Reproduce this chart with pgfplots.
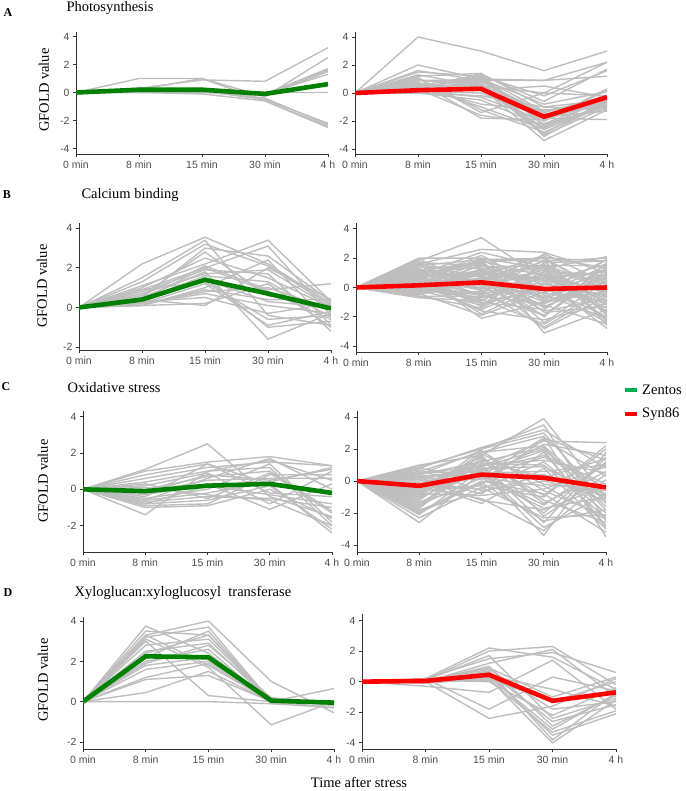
\documentclass[border=0pt]{standalone}
\usepackage{fontspec}
\setmainfont{Liberation Serif}
\setsansfont{Liberation Sans}
\usepackage{pgfplots}
\pgfplotsset{compat=1.18}

\definecolor{glin}{RGB}{190,190,190}
\definecolor{zgreen}{RGB}{0,128,0}
\definecolor{lgreen}{RGB}{0,176,80}
\definecolor{sred}{RGB}{255,0,0}
\definecolor{axc}{RGB}{51,51,51}
\definecolor{tkc}{RGB}{77,77,77}

% one gene profile (grey)
\newcommand\g[5]{\addplot[glin, line width=1.4pt, forget plot] coordinates {(0,#1)(1,#2)(2,#3)(3,#4)(4,#5)};}
% mean profile
\newcommand\m[6]{\addplot[#1, line width=4.6pt, forget plot] coordinates {(0,#2)(1,#3)(2,#4)(3,#5)(4,#6)};}

\pgfplotsset{panel/.style={
  scale only axis, anchor=south west,
  xmin=0, xmax=4, xtick={0,1,2,3,4},
  xticklabels={0 min,8 min,15 min,30 min,4 h},
  ytick={-4,-2,0,2,4},
  yticklabel={\pgfmathparse{int(round(\tick))}\pgfmathresult},
  axis x line*=bottom, axis y line*=left,
  axis line style={-, axc, line width=0.9pt},
  tick style={axc, line width=0.9pt},
  tick align=outside, major tick length=3pt,
  ticklabel style={font=\sffamily\fontsize{10.5}{12}\selectfont, text=tkc},
}}
\tikzset{ttl/.style={font=\fontsize{14.5}{17}\selectfont, anchor=west},
  lab/.style={font=\bfseries\fontsize{12}{14}\selectfont},
  ylab/.style={font=\fontsize{14.5}{17}\selectfont, rotate=90}}

\begin{document}
\begin{tikzpicture}
\useasboundingbox (0pt,0pt) rectangle (685pt,-791pt);

% ---------------- A: Photosynthesis
\node[lab] at (8pt,-13pt) {A};
\node[ttl] at (63pt,-8pt) {Photosynthesis};
\node[ylab] at (44pt,-90pt) {GFOLD value};

\begin{axis}[panel, at={(76pt,-154pt)}, width=252pt, height=122pt, ymin=-4.39, ymax=4.32]
\g{0}{1.0}{1.0}{-0.6}{-2.5}
\g{0}{0.3}{0.9}{0.8}{3.2}
\g{0}{0.2}{1.0}{-0.3}{2.5}
\g{0}{0.1}{0.3}{-0.1}{1.7}
\g{0}{0.1}{0.0}{-0.2}{1.6}
\g{0}{0.2}{0.1}{-0.5}{-2.2}
\g{0}{0.0}{0.1}{-0.4}{-2.3}
\g{0}{0.0}{0.1}{0.0}{0.0}
\g{0}{0.3}{0.2}{-0.1}{1.3}
\g{0}{0.1}{0.2}{-0.2}{1.5}
\g{0}{0.0}{-0.1}{-0.6}{-2.4}
\m{zgreen}{0}{0.2}{0.2}{-0.1}{0.6}
\end{axis}

\begin{axis}[panel, at={(355pt,-154pt)}, width=252pt, height=122pt, ymin=-4.36, ymax=4.36]
\g{0}{4.0}{3.0}{1.6}{3.0}
\g{0}{2.0}{1.0}{0.9}{2.2}
\g{0}{1.6}{0.9}{0.9}{1.2}
\g{0}{1.5}{1.2}{-0.2}{1.6}
\g{0}{1.3}{0.5}{0.0}{2.2}
\g{0}{1.2}{1.4}{-1.0}{-0.5}
\g{0}{1.0}{-1.2}{-2.8}{-0.8}
\g{0}{0.9}{0.6}{-1.5}{-0.9}
\g{0}{0.8}{-1.8}{-1.9}{-0.6}
\g{0}{0.6}{0.2}{-2.2}{-1.1}
\g{0}{0.5}{-1.0}{-2.6}{-0.7}
\g{0}{0.4}{1.1}{-1.3}{-0.4}
\g{0}{0.3}{0.4}{-3.4}{-1.2}
\g{0}{0.2}{-0.3}{-2.0}{0.3}
\g{0}{0.1}{0.0}{-1.8}{-1.9}
\g{0}{0.1}{1.0}{-0.8}{0.1}
\g{0}{0.0}{-0.5}{-2.4}{-0.9}
\g{0}{0.2}{0.8}{-1.4}{-0.2}
\g{0}{0.0}{0.6}{-3.0}{-1.0}
\g{0}{0.3}{-1.6}{-2.2}{-0.5}
\g{0}{0.5}{1.3}{-0.6}{1.7}
\g{0}{0.7}{0.2}{0.5}{-0.3}
\g{0}{0.0}{0.9}{-1.6}{-0.7}
\g{0}{0.4}{-0.8}{-1.2}{-1.0}
\g{0}{0.1}{0.3}{-2.6}{-0.8}
\g{0}{0.2}{1.4}{-3.1}{-0.6}
\g{0}{0.0}{-0.2}{-1.0}{-1.2}
\g{0}{0.6}{0.5}{-2.0}{0.2}
\g{0}{0.9}{0.9}{-1.8}{-0.4}
\g{0}{1.1}{-1.4}{0.0}{-0.2}
\g{0}{0.3}{1.2}{-2.3}{-0.9}
\g{0}{0.1}{0.7}{-2.9}{-0.5}
\g{0}{0.4}{1.0}{-1.7}{-1.3}
\g{0}{0.2}{0.5}{-2.5}{-0.3}
\m{sred}{0}{0.2}{0.3}{-1.7}{-0.3}
\end{axis}

% ---------------- B: Calcium binding
\node[lab] at (7pt,-195pt) {B};
\node[ttl] at (78pt,-195pt) {Calcium binding};
\node[ylab] at (42pt,-286pt) {GFOLD value};

\begin{axis}[panel, at={(79pt,-350pt)}, width=252pt, height=127pt, ymin=-2.15, ymax=4.27]
\g{0}{2.2}{3.55}{2.2}{0.2}
\g{0}{1.5}{3.4}{-0.4}{-0.9}
\g{0}{1.3}{3.2}{2.1}{0.1}
\g{0}{1.1}{2.2}{3.4}{0.3}
\g{0}{0.9}{2.0}{3.1}{-0.4}
\g{0}{0.8}{1.9}{1.7}{-1.2}
\g{0}{0.6}{2.1}{0.9}{1.2}
\g{0}{0.5}{1.8}{-1.6}{-0.3}
\g{0}{0.4}{1.6}{1.3}{-0.5}
\g{0}{0.3}{1.4}{0.3}{0.0}
\g{0}{0.2}{1.2}{-0.9}{-0.2}
\g{0}{0.1}{1.0}{2.4}{-0.9}
\g{0}{0.2}{0.8}{1.0}{-0.1}
\g{0}{0.4}{0.1}{2.0}{0.4}
\g{0}{0.3}{0.5}{-0.3}{0.2}
\g{0}{0.1}{0.2}{1.2}{-1.0}
\g{0}{0.6}{2.8}{0.6}{0.1}
\g{0}{0.9}{1.3}{-0.6}{-0.4}
\g{0}{1.0}{2.5}{1.5}{0.0}
\g{0}{0.2}{0.7}{0.1}{-0.3}
\g{0}{0.5}{3.0}{2.6}{0.3}
\g{0}{0.3}{1.5}{-1.0}{-0.7}
\g{0}{0.7}{1.7}{1.9}{0.0}
\g{0}{0.1}{0.9}{0.4}{0.4}
\g{0}{0.4}{2.0}{0.8}{-0.6}
\m{zgreen}{0}{0.4}{1.4}{0.7}{-0.05}
\end{axis}

\begin{axis}[panel, at={(356pt,-352pt)}, width=251pt, height=129pt, ymin=-4.4, ymax=4.4]
\g{0}{2.0}{2.0}{1.3}{2.1}
\g{0}{1.8}{3.4}{0.6}{-0.2}
\g{0}{1.6}{2.6}{2.4}{1.0}
\g{0}{1.5}{1.9}{2.0}{1.8}
\g{0}{1.2}{1.7}{-0.5}{-2.1}
\g{0}{1.1}{0.8}{2.2}{-2.6}
\g{0}{1.0}{1.4}{1.5}{1.5}
\g{0}{0.9}{-2.1}{-1.0}{0.7}
\g{0}{0.8}{1.0}{0.5}{-2.8}
\g{0}{0.7}{-1.8}{0.2}{1.2}
\g{0}{0.6}{1.9}{-3.1}{-1.5}
\g{0}{0.5}{0.3}{1.8}{2.0}
\g{0}{0.5}{-0.5}{0.7}{-1.2}
\g{0}{0.4}{1.2}{-2.4}{0.5}
\g{0}{0.4}{0.6}{1.0}{-0.4}
\g{0}{0.3}{-1.0}{-1.5}{1.4}
\g{0}{0.3}{2.0}{-0.8}{0.9}
\g{0}{0.2}{0.0}{1.2}{-2.3}
\g{0}{0.2}{-1.5}{0.3}{-0.7}
\g{0}{0.1}{0.9}{-2.0}{1.7}
\g{0}{0.1}{1.5}{0.9}{-1.0}
\g{0}{0.0}{-0.4}{2.3}{0.3}
\g{0}{0.0}{0.4}{-1.2}{-2.5}
\g{0}{-0.1}{-0.8}{-2.5}{0.0}
\g{0}{-0.1}{1.1}{0.6}{1.1}
\g{0}{-0.2}{-1.2}{1.6}{-1.8}
\g{0}{-0.2}{0.2}{-0.6}{0.6}
\g{0}{-0.3}{-0.3}{1.9}{-0.2}
\g{0}{-0.3}{1.6}{-1.7}{-1.3}
\g{0}{-0.4}{-1.9}{-0.3}{1.9}
\g{0}{-0.5}{0.7}{-2.8}{-0.6}
\g{0}{-0.6}{-0.6}{0.0}{-2.0}
\g{0}{-0.7}{-0.9}{1.1}{0.8}
\g{0}{-0.5}{0.5}{2.1}{1.3}
\g{0}{1.3}{-0.2}{-0.4}{-0.9}
\g{0}{0.6}{1.8}{0.8}{-1.6}
\g{0}{1.9}{0.2}{-1.3}{0.4}
\g{0}{0.9}{2.4}{1.4}{-0.1}
\g{0}{0.3}{-1.6}{-2.2}{-1.1}
\g{0}{0.7}{0.9}{0.4}{1.6}
\g{0}{1.4}{1.3}{-0.9}{0.2}
\g{0}{0.2}{1.7}{2.0}{-0.3}
\g{0}{0.0}{-0.7}{0.7}{-1.4}
\g{0}{1.0}{0.1}{-1.9}{1.0}
\g{0}{-0.2}{1.0}{1.3}{-2.2}
\g{0}{0.4}{-0.4}{-0.1}{0.1}
\g{0}{1.7}{1.5}{0.2}{-0.5}
\g{0}{0.8}{-1.3}{1.7}{1.8}
\g{0}{0.1}{0.6}{-1.6}{-0.8}
\g{0}{0.5}{2.2}{-0.2}{0.9}
\g{0}{1.2}{0.4}{-0.7}{1.3}
\g{0}{0.6}{-0.9}{1.4}{-1.7}
\g{0}{-0.4}{1.3}{0.5}{-0.6}
\g{0}{1.1}{-0.6}{-1.1}{0.5}
\g{0}{0.3}{0.8}{-0.4}{1.5}
\g{0}{-0.6}{-1.4}{0.9}{-0.4}
\g{0}{0.8}{1.9}{1.8}{-1.9}
\g{0}{1.5}{-0.1}{0.3}{-1.1}
\g{0}{0.0}{1.2}{-1.4}{0.8}
\g{0}{0.7}{-0.2}{-2.7}{-0.2}
\g{0}{-0.3}{0.6}{1.5}{0.2}
\g{0}{1.0}{1.6}{-0.2}{1.9}
\g{0}{0.4}{-1.1}{0.0}{-2.4}
\g{0}{0.2}{0.3}{0.8}{-0.9}
\g{0}{1.6}{0.7}{-1.0}{-0.3}
\g{0}{-0.1}{-0.5}{-1.9}{1.2}
\m{sred}{0}{0.15}{0.35}{-0.1}{0.0}
\end{axis}

% ---------------- C: Oxidative stress
\node[lab] at (6pt,-387pt) {C};
\node[ttl] at (64pt,-388pt) {Oxidative stress};
\node[ylab] at (43pt,-481pt) {GFOLD value};

\begin{axis}[panel, at={(83pt,-552pt)}, width=249pt, height=141pt, ymin=-3.45, ymax=4.31]
\g{0}{1.1}{2.5}{-0.4}{-1.5}
\g{0}{1.0}{1.5}{1.8}{1.3}
\g{0}{0.8}{1.4}{0.3}{-2.4}
\g{0}{0.6}{1.2}{1.5}{1.3}
\g{0}{0.4}{1.0}{1.2}{-2.0}
\g{0}{0.2}{0.9}{-0.8}{1.0}
\g{0}{0.0}{0.7}{1.0}{-1.2}
\g{0}{-0.2}{0.5}{0.6}{0.6}
\g{0}{-0.3}{0.3}{-1.1}{0.3}
\g{0}{-0.5}{0.0}{1.4}{-1.8}
\g{0}{-0.6}{-0.2}{0.4}{1.2}
\g{0}{-0.7}{-0.4}{-0.5}{-1.0}
\g{0}{-0.8}{-0.6}{0.2}{-2.2}
\g{0}{-0.9}{-0.8}{0.8}{0.8}
\g{0}{-1.0}{-0.9}{0.0}{-1.6}
\g{0}{-1.4}{1.0}{1.6}{0.5}
\g{0}{-0.4}{1.4}{-0.2}{-0.4}
\g{0}{0.3}{-0.5}{0.9}{-1.3}
\g{0}{-0.6}{0.6}{1.7}{0.0}
\g{0}{0.1}{-0.3}{-0.6}{-2.0}
\g{0}{-0.2}{0.8}{0.5}{1.1}
\g{0}{-0.8}{0.2}{-0.3}{-0.8}
\m{zgreen}{0}{-0.1}{0.2}{0.3}{-0.2}
\end{axis}

\begin{axis}[panel, at={(357pt,-552pt)}, width=249pt, height=141pt, ymin=-4.44, ymax=4.38]
\g{0}{1.0}{1.6}{3.9}{-1.0}
\g{0}{0.9}{2.0}{3.5}{-2.5}
\g{0}{0.8}{2.1}{3.2}{0.8}
\g{0}{0.6}{1.8}{2.8}{-3.5}
\g{0}{0.5}{0.9}{2.5}{2.4}
\g{0}{0.4}{1.2}{2.1}{-1.8}
\g{0}{0.3}{0.6}{-3.4}{1.8}
\g{0}{0.2}{-0.8}{1.8}{-2.8}
\g{0}{0.1}{1.0}{-2.6}{1.5}
\g{0}{0.0}{0.3}{1.5}{-0.4}
\g{0}{-0.1}{-1.4}{0.8}{-3.0}
\g{0}{-0.2}{0.8}{-2.0}{1.2}
\g{0}{-0.3}{-0.5}{1.2}{-2.0}
\g{0}{-0.4}{1.5}{-1.4}{0.6}
\g{0}{-0.5}{0.4}{0.4}{-1.3}
\g{0}{-0.6}{-0.3}{-1.0}{2.0}
\g{0}{-0.7}{0.9}{2.0}{-1.6}
\g{0}{-0.8}{-0.9}{-0.5}{0.9}
\g{0}{-1.0}{0.6}{-2.9}{-0.8}
\g{0}{-1.1}{1.1}{1.0}{-2.3}
\g{0}{-1.3}{-0.2}{2.6}{0.3}
\g{0}{-1.5}{0.2}{-1.7}{-1.0}
\g{0}{-1.7}{1.3}{0.2}{1.4}
\g{0}{-1.9}{0.0}{-0.8}{-3.2}
\g{0}{-2.1}{0.7}{1.6}{-0.2}
\g{0}{-2.3}{-0.4}{-2.3}{-2.1}
\g{0}{-2.6}{0.5}{0.6}{1.0}
\g{0}{-1.6}{1.7}{-0.2}{-0.6}
\g{0}{-0.9}{2.0}{3.0}{-1.4}
\g{0}{-0.4}{-1.1}{-3.1}{0.1}
\g{0}{0.2}{0.1}{2.3}{1.6}
\g{0}{-1.2}{1.4}{-1.2}{-2.6}
\g{0}{0.7}{-0.6}{0.0}{-0.9}
\g{0}{-0.2}{1.0}{1.3}{0.5}
\g{0}{-2.0}{-0.1}{-2.5}{-1.8}
\g{0}{0.4}{1.9}{-0.6}{-2.2}
\g{0}{-0.6}{0.3}{2.7}{1.3}
\g{0}{0.1}{-1.2}{-1.8}{-0.3}
\g{0}{-1.4}{0.8}{0.9}{-1.1}
\g{0}{-0.3}{1.2}{-0.9}{2.2}
\g{0}{0.5}{0.6}{1.9}{-2.9}
\g{0}{-0.8}{1.6}{-2.2}{0.4}
\g{0}{-1.8}{-0.7}{0.4}{-0.8}
\g{0}{0.3}{0.4}{-1.5}{1.1}
\g{0}{-1.0}{1.8}{2.2}{-1.2}
\g{0}{0.8}{0.2}{-0.3}{-2.4}
\m{sred}{0}{-0.3}{0.4}{0.2}{-0.4}
\end{axis}

% legend
\fill[lgreen] (625pt,-387.8pt) rectangle (637pt,-392.3pt);
\node[anchor=west, inner sep=0pt, font=\fontsize{14.5}{17}\selectfont] at (642pt,-390pt) {Zentos};
\fill[sred] (625pt,-411.8pt) rectangle (637pt,-416.3pt);
\node[anchor=west, inner sep=0pt, font=\fontsize{14.5}{17}\selectfont] at (642pt,-414pt) {Syn86};

% ---------------- D: Xyloglucan:xyloglucosyl transferase
\node[lab] at (8pt,-593pt) {D};
\node[ttl] at (71pt,-593pt) {Xyloglucan:xyloglucosyl\ \ transferase};
\node[ylab] at (43pt,-680pt) {GFOLD value};

\begin{axis}[panel, at={(83pt,-749pt)}, width=251pt, height=132pt, ymin=-2.35, ymax=4.2]
\g{0}{3.75}{2.4}{0.0}{-0.3}
\g{0}{3.5}{3.3}{0.1}{0.0}
\g{0}{3.3}{4.0}{1.0}{-0.55}
\g{0}{3.2}{3.7}{0.0}{0.0}
\g{0}{3.1}{1.7}{-1.15}{0.0}
\g{0}{3.0}{0.3}{0.0}{0.0}
\g{0}{2.8}{3.1}{0.1}{-0.1}
\g{0}{2.5}{2.9}{0.0}{0.0}
\g{0}{2.2}{3.5}{0.0}{0.0}
\g{0}{2.0}{2.6}{-0.1}{0.0}
\g{0}{1.8}{2.2}{0.0}{0.0}
\g{0}{1.6}{2.0}{0.1}{-0.1}
\g{0}{1.2}{1.9}{0.0}{0.0}
\g{0}{1.1}{1.3}{0.0}{0.65}
\g{0}{0.45}{1.5}{0.0}{0.0}
\g{0}{0.0}{0.0}{-0.1}{-0.3}
\g{0}{2.4}{3.3}{0.0}{0.0}
\g{0}{3.3}{1.8}{0.0}{0.0}
\g{0}{1.9}{2.8}{0.2}{-0.2}
\m{zgreen}{0}{2.25}{2.2}{0.05}{-0.05}
\end{axis}

\begin{axis}[panel, at={(362pt,-749pt)}, width=254pt, height=135pt, ymin=-4.4, ymax=4.42]
\g{0}{0.2}{2.2}{1.6}{-0.5}
\g{0}{0.1}{2.0}{2.3}{-0.2}
\g{0}{0.2}{1.5}{1.9}{0.6}
\g{0}{0.0}{1.2}{2.1}{-1.0}
\g{0}{0.1}{0.9}{-1.0}{0.3}
\g{0}{0.0}{0.6}{-2.6}{-1.5}
\g{0}{0.0}{0.3}{-3.1}{-0.8}
\g{0}{-0.1}{0.2}{-4.0}{-1.2}
\g{0}{0.0}{0.5}{-3.5}{-2.1}
\g{0}{0.1}{0.0}{-2.2}{-0.4}
\g{0}{-0.3}{-0.7}{1.4}{-1.8}
\g{0}{0.2}{-1.8}{0.3}{-0.6}
\g{0}{0.0}{-2.4}{-1.6}{0.2}
\g{0}{0.1}{0.8}{-1.8}{-1.3}
\g{0}{0.0}{1.0}{-2.9}{-0.9}
\g{0}{0.1}{0.4}{-0.5}{-1.6}
\g{0}{0.0}{0.7}{-3.8}{-0.7}
\g{0}{0.0}{0.2}{-1.3}{0.0}
\g{0}{0.1}{1.7}{-2.4}{-1.1}
\g{0}{0.0}{0.1}{-3.3}{-1.9}
\m{sred}{0}{0.05}{0.45}{-1.25}{-0.7}
\end{axis}

\node[font=\fontsize{14.5}{17}\selectfont] at (359pt,-782pt) {Time after stress};
\end{tikzpicture}
\end{document}
